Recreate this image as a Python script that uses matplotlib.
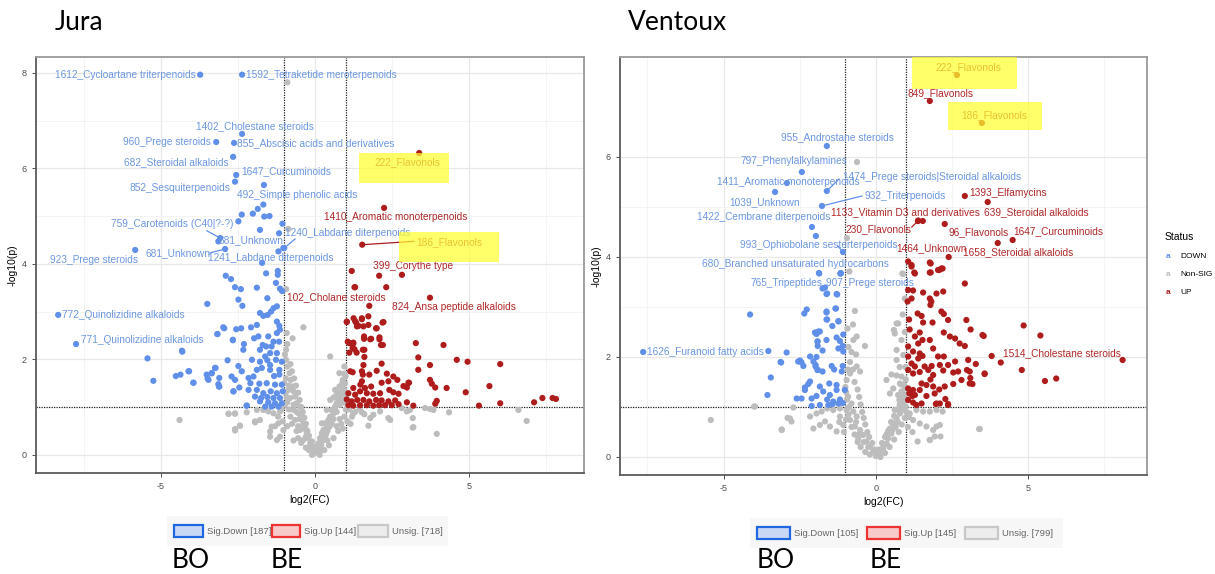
import matplotlib
matplotlib.use('Agg')
import matplotlib.pyplot as plt
from matplotlib.patches import Rectangle

plt.rcParams['font.family'] = ['Liberation Sans Narrow', 'Liberation Sans', 'DejaVu Sans']
plt.rcParams['axes.unicode_minus'] = False

# colours used by the volcano plots
col_down = '#5F8FE8'
col_up = '#AE1C1C'
col_ns = '#BDBDBD'
txt_down = '#6C97E0'
txt_up = '#B02828'

# ---------------- Jura ----------------
jura_down = [
    (-1.68, 5.24), (-1.86, 5.15), (-2.02, 5.05), (-2.38, 5.03), (-1.48, 5.0), (-1.65, 4.99),
    (-2.49, 4.89), (-1.06, 4.84), (-1.79, 4.71), (-1.17, 4.64), (-1.03, 4.33), (-1.19, 4.26),
    (-1.21, 3.85), (-1.21, 3.77), (-1.59, 3.8), (-2.9, 3.75), (-2.73, 3.68), (-2.6, 3.51),
    (-2.41, 3.47), (-1.89, 3.5), (-1.27, 3.6), (-1.14, 3.48), (-1.07, 3.43), (-2.49, 3.25),
    (-1.55, 3.28), (-3.5, 3.16), (-2.36, 3.12), (-1.24, 3.11), (-1.35, 3.07), (-1.43, 3.0),
    (-1.79, 2.97), (-1.54, 2.93), (-1.68, 2.91), (-1.24, 2.79), (-1.16, 2.7), (-2.98, 2.67),
    (-2.56, 2.63), (-2.4, 2.65), (-2.08, 2.67), (-1.89, 2.72), (-1.14, 2.62), (-3.17, 2.53),
    (-1.24, 2.55), (-2.67, 2.41), (-1.98, 2.44), (-1.84, 2.48), (-1.52, 2.48), (-1.35, 2.37),
    (-1.17, 2.37), (-4.31, 2.16), (-2.31, 2.32), (-1.7, 2.3), (-1.59, 2.27), (-1.41, 2.27),
    (-1.79, 2.2), (-2.33, 2.2), (-1.46, 2.13), (-1.24, 2.13), (-1.62, 2.06), (-2.84, 1.98),
    (-2.05, 1.99), (-1.79, 1.95), (-1.55, 1.98), (-1.27, 1.99), (-1.08, 1.95), (-2.49, 1.86),
    (-1.46, 1.88), (-2.38, 1.75), (-1.89, 1.78), (-1.73, 1.82), (-1.46, 1.78), (-1.16, 1.78),
    (-4.11, 1.75), (-3.25, 1.82), (-3.36, 1.71), (-2.71, 1.64), (-2.6, 1.57), (-3.11, 1.61),
    (-2.16, 1.61), (-2.0, 1.64), (-1.33, 1.65), (-1.16, 1.68), (-3.95, 1.51), (-3.46, 1.57),
    (-3.11, 1.43), (-2.1, 1.5), (-1.81, 1.49), (-1.57, 1.5), (-1.3, 1.47), (-1.08, 1.47),
    (-2.65, 1.33), (-2.46, 1.41), (-2.16, 1.36), (-1.89, 1.36), (-1.68, 1.29), (-1.44, 1.33),
    (-1.24, 1.29), (-1.05, 1.33), (-1.95, 1.22), (-1.75, 1.19), (-1.55, 1.21), (-1.35, 1.19),
    (-1.14, 1.19), (-1.79, 1.12), (-1.52, 1.1), (-1.3, 1.08), (-1.08, 1.08), (-2.22, 1.03),
    (-1.62, 1.01), (-1.41, 1.01), (-1.19, 1.01), (-5.44, 2.02), (-5.25, 1.55), (-4.32, 2.18),
    (-4.52, 1.65), (-4.37, 1.68), (-4.09, 1.75), (-3.95, 1.51), (-3.52, 1.68), (-3.49, 1.6),
    (-3.35, 1.71), (-3.23, 1.82), (-3.14, 1.48), (-3.12, 1.43), (-3.17, 2.53), (-2.95, 2.65),
    (-2.67, 2.4), (-2.65, 1.33), (-2.22, 1.03),
]
jura_up = [
    (1.19, 3.85), (2.08, 3.75), (1.28, 3.51), (2.31, 3.51), (1.03, 2.79), (1.25, 2.86),
    (1.33, 2.77), (1.52, 2.86), (1.41, 2.7), (1.73, 2.9), (1.57, 2.69), (1.98, 2.65),
    (2.19, 2.77), (1.59, 2.48), (1.79, 2.42), (2.09, 2.46), (2.14, 2.3), (1.11, 2.34),
    (1.24, 2.33), (1.22, 2.24), (1.35, 2.14), (1.55, 2.2), (1.11, 2.14), (3.27, 2.34),
    (3.35, 2.04), (3.35, 1.78), (2.16, 1.91), (1.57, 1.88), (1.14, 1.75), (1.22, 1.73),
    (1.52, 1.75), (1.55, 1.68), (1.76, 1.68), (2.0, 1.76), (2.33, 1.7), (2.54, 1.64),
    (2.67, 1.57), (1.52, 1.54), (1.47, 1.47), (1.24, 1.4), (1.62, 1.4), (1.82, 1.43),
    (2.16, 1.51), (2.38, 1.54), (2.87, 1.44), (3.03, 1.51), (1.08, 1.29), (1.3, 1.26),
    (1.46, 1.33), (1.68, 1.29), (1.89, 1.28), (2.11, 1.29), (2.41, 1.36), (2.54, 1.31),
    (2.71, 1.28), (1.03, 1.16), (1.19, 1.12), (1.37, 1.15), (1.57, 1.15), (1.76, 1.12),
    (1.98, 1.15), (2.16, 1.14), (2.38, 1.12), (2.6, 1.14), (2.98, 1.1), (3.19, 1.03),
    (1.08, 1.04), (1.24, 1.03), (1.46, 1.04), (1.68, 1.04), (1.89, 1.03), (2.08, 1.04),
    (2.27, 1.04), (2.49, 1.04), (2.71, 1.06), (4.17, 2.3), (3.73, 1.88), (4.6, 1.99),
    (4.95, 1.95), (6.01, 1.9), (5.66, 1.44), (4.89, 1.31), (4.27, 1.4), (3.9, 1.41),
    (3.73, 1.57), (3.79, 1.49), (3.95, 1.13), (3.9, 1.07), (3.05, 1.51), (2.98, 1.41),
    (5.32, 1.03), (6.01, 1.08), (7.11, 1.1), (7.38, 1.19), (7.71, 1.19), (7.82, 1.17),
    (1.3, 3.51), (1.03, 2.78), (1.3, 2.8), (1.36, 2.69), (1.52, 2.84), (1.73, 2.72),
    (2.0, 2.65), (2.22, 2.78), (1.59, 2.43), (1.82, 2.43), (2.09, 2.42), (2.2, 2.3),
    (1.06, 2.37), (1.24, 2.35), (1.28, 2.21), (1.6, 2.2), (1.6, 2.05),
]
jura_ns = [
    (-0.94, 1.99), (-0.9, 1.85), (-0.83, 1.71), (-0.79, 1.57), (-0.73, 1.43), (-0.87, 1.36),
    (-0.7, 1.33), (-0.65, 1.22), (-0.81, 1.19), (-0.6, 1.08), (-0.49, 1.01), (-0.7, 0.94),
    (-0.54, 0.87), (-0.43, 0.8), (-0.65, 0.73), (-0.38, 0.66), (-0.32, 0.56), (-0.49, 0.52),
    (-0.27, 0.45), (-0.22, 0.35), (-0.38, 0.31), (-0.16, 0.24), (-0.11, 0.14), (-0.05, 0.03),
    (0.05, 0.07), (0.0, 0.17), (0.11, 0.24), (0.16, 0.35), (0.22, 0.45), (0.27, 0.52),
    (0.38, 0.59), (0.32, 0.66), (0.43, 0.73), (0.49, 0.8), (0.6, 0.87), (0.54, 0.94),
    (0.65, 1.01), (0.7, 1.08), (0.76, 1.15), (0.81, 1.22), (0.7, 1.26), (0.87, 1.33),
    (0.92, 1.4), (0.79, 1.43), (0.97, 1.5), (0.9, 1.57), (0.99, 1.64), (0.65, 1.36),
    (0.49, 1.15), (0.38, 0.94), (0.54, 0.66), (0.22, 0.66), (-0.87, 4.73), (-0.94, 3.47),
    (-0.38, 2.67), (-0.73, 2.44), (-0.9, 2.32), (-0.94, 2.2), (0.49, 2.06), (0.79, 1.71),
    (-0.9, 7.8), (1.52, 0.89), (1.89, 0.84), (2.44, 0.73), (2.81, 0.98), (3.08, 0.94),
    (3.19, 0.58), (3.57, 0.98), (3.73, 0.96), (1.24, 0.87), (2.11, 0.91), (3.17, 0.77),
    (3.17, 0.57), (3.95, 0.44), (4.35, 0.89), (6.6, 0.94), (6.87, 0.71), (3.84, 0.94),
    (2.98, 0.91), (1.79, 0.77), (1.73, 0.61), (2.38, 0.77), (-1.14, 0.91), (-1.35, 0.87),
    (-1.52, 0.91), (-1.68, 0.94), (-1.89, 0.94), (-2.22, 0.89), (-2.6, 0.87), (-2.81, 0.86),
    (-1.79, 0.73), (-1.41, 0.59), (-1.19, 0.66), (-1.95, 0.7), (-2.6, 0.54), (-2.44, 0.61),
    (-1.46, 0.38), (-1.14, 0.38), (-1.03, 0.52), (-4.4, 0.73), (-2.81, 0.86), (-2.6, 0.86),
    (-2.44, 0.61), (-2.6, 0.51), (-1.95, 0.68), (-1.24, 0.31), (-1.46, 0.49),
    (-0.8, 1.9), (-0.75, 1.75), (-0.68, 1.6), (-0.62, 1.45), (-0.55, 1.3), (-0.5, 1.15),
    (-0.45, 1.0), (-0.4, 0.9), (-0.35, 0.78), (-0.3, 0.65), (-0.25, 0.5), (-0.2, 0.4),
    (-0.1, 0.28), (-0.05, 0.15), (0.0, 0.05), (-1.0, 1.5), (-0.95, 1.3), (-0.9, 1.1),
    (-0.85, 0.95), (-0.8, 0.8), (-0.75, 0.65), (-0.6, 0.5), (-0.55, 0.35), (-0.45, 0.25),
    (-0.3, 0.15), (-0.2, 0.1), (-0.1, 0.0), (0.1, 0.1), (0.2, 0.2), (0.3, 0.35), (0.4, 0.5),
    (0.5, 0.62), (0.6, 0.75), (0.7, 0.9), (0.8, 1.05), (0.85, 1.2), (0.95, 1.35),
    (0.98, 1.25), (0.92, 1.1), (0.15, 0.0), (0.3, 0.1), (0.45, 0.2), (0.6, 0.35),
    (0.75, 0.5), (0.85, 0.65), (0.95, 0.8), (1.0, 0.95), (0.9, 0.55), (1.05, 0.7),
    (-1.1, 0.95), (-1.2, 0.8), (-1.05, 0.7), (-1.3, 0.6), (1.1, 0.95), (1.2, 0.8),
    (1.3, 0.9), (1.45, 0.95), (1.6, 0.85), (1.15, 0.65),
    (-0.95, 1.6), (-0.92, 1.2), (-0.98, 1.05), (-0.85, 1.45), (-0.6, 0.9), (-0.5, 0.75),
    (-0.4, 0.55), (-0.3, 0.38), (-0.15, 0.18), (0.05, 0.12), (0.25, 0.3), (0.35, 0.42),
    (0.45, 0.58), (0.55, 0.78), (0.65, 0.95), (0.75, 1.3), (0.88, 1.5), (0.95, 1.7),
    (0.6, 1.2), (-0.98, 2.1), (-0.92, 2.55), (0.95, 1.85), (-0.7, 1.05), (-0.55, 0.6),
    (0.2, 0.1), (0.4, 0.3), (0.7, 0.6), (0.8, 0.75), (0.95, 1.1), (-0.9, 0.6), (-0.7, 0.3),
]
jura_labels = [
    ('1612_Cycloartane triterpenoids', -3.73, 7.96, 'DOWN'),
    ('1592_Tetraketide meroterpenoids', -2.37, 7.96, 'DOWN'),
    ('1402_Cholestane steroids', -2.37, 6.72, 'DOWN'),
    ('960_Prege steroids', -3.21, 6.55, 'DOWN'),
    ('855_Abscisic acids and derivatives', -2.63, 6.53, 'DOWN'),
    ('682_Steroidal alkaloids', -2.66, 6.24, 'DOWN'),
    ('1647_Curcuminoids', -2.56, 5.86, 'DOWN'),
    ('852_Sesquiterpenoids', -2.6, 5.72, 'DOWN'),
    ('492_Simple phenolic acids', -1.66, 5.65, 'DOWN'),
    ('759_Carotenoids (C40|?-?)', -3.08, 4.54, 'DOWN'),
    ('681_Unknown', -3.14, 4.47, 'DOWN'),
    ('1240_Labdane diterpenoids', -1.0, 4.33, 'DOWN'),
    ('681_Unknown', -2.92, 4.31, 'DOWN'),
    ('1241_Labdane diterpenoids', -1.72, 4.02, 'DOWN'),
    ('923_Prege steroids', -5.84, 4.29, 'DOWN'),
    ('772_Quinolizidine alkaloids', -8.34, 2.93, 'DOWN'),
    ('771_Quinolizidine alkaloids', -7.76, 2.32, 'DOWN'),
    ('222_Flavonols', 3.38, 6.32, 'UP'),
    ('1410_Aromatic monoterpenoids', 2.24, 5.17, 'UP'),
    ('186_Flavonols', 1.53, 4.4, 'UP'),
    ('399_Corythe type', 2.82, 3.77, 'UP'),
    ('102_Cholane steroids', 1.76, 3.12, 'UP'),
    ('824_Ansa peptide alkaloids', 3.73, 3.29, 'UP'),
]
# text anchor (x, y, ha) and optional leader start for each label above
jura_text_pos = [
    (-3.86, 7.96, 'right', None), (-2.24, 7.96, 'left', None), (-1.95, 6.89, 'center', None),
    (-3.38, 6.55, 'right', None), (-2.53, 6.53, 'left', None), (-2.82, 6.12, 'right', None),
    (-2.4, 5.95, 'left', None), (-2.76, 5.59, 'right', None), (-2.53, 5.45, 'left', None),
    (-2.66, 4.84, 'right', (-3.51, 4.69)), (-3.15, 4.5, 'left', None),
    (-0.97, 4.65, 'left', (-0.65, 4.52)), (-3.41, 4.23, 'right', (-3.41, 4.23)),
    (-3.47, 4.13, 'left', None), (-5.75, 4.08, 'right', None), (-8.21, 2.93, 'left', None),
    (-7.6, 2.41, 'left', None),
    (2.99, 6.12, 'center', None), (2.63, 4.98, 'center', None), (3.28, 4.46, 'left', (3.21, 4.47)),
    (3.18, 3.96, 'center', None), (-0.91, 3.31, 'left', None), (2.5, 3.1, 'left', None),
]
jura_highlights = [(1.43, 5.7, 2.92, 0.62), (2.73, 4.04, 3.24, 0.63)]

# ---------------- Ventoux ----------------
vent_down = [
    (-1.86, 3.67), (-1.16, 3.67), (-1.67, 3.39), (-1.6, 3.27), (-1.27, 3.25), (-4.13, 2.85),
    (-2.27, 2.95), (-2.35, 2.87), (-1.62, 2.91), (-1.31, 2.97), (-1.6, 2.75), (-1.23, 2.72),
    (-1.84, 2.51), (-1.95, 2.46), (-1.92, 2.31), (-1.91, 2.22), (-1.62, 2.34), (-1.29, 2.39),
    (-1.18, 2.32), (-1.09, 2.22), (-1.23, 2.17), (-1.07, 2.11), (-3.53, 2.12), (-2.93, 2.09),
    (-2.16, 2.01), (-2.05, 1.91), (-2.55, 1.91), (-2.44, 1.89), (-2.38, 1.82), (-3.11, 1.89),
    (-3.45, 1.59), (-3.56, 1.24), (-1.98, 1.81), (-1.92, 1.74), (-1.75, 1.71), (-1.45, 1.82),
    (-1.37, 1.75), (-1.09, 1.82), (-1.12, 1.71), (-2.16, 1.51), (-2.22, 1.46), (-2.33, 1.34),
    (-1.53, 1.47), (-1.29, 1.44), (-1.84, 1.41), (-1.73, 1.31), (-1.51, 1.24), (-1.29, 1.34),
    (-1.02, 1.34), (-2.6, 1.17), (-2.44, 1.17), (-2.11, 1.17), (-1.95, 1.22), (-1.6, 1.15),
    (-1.4, 1.11), (-1.18, 1.15), (-1.84, 1.04), (-1.56, 1.04), (-1.42, 1.06), (-1.23, 1.07),
    (-1.09, 1.08), (-2.11, 1.02), (-3.13, 1.9), (-2.33, 1.39), (-1.75, 3.37), (-1.62, 3.26),
    (-1.29, 3.26), (-1.62, 2.89), (-1.33, 2.97), (-1.62, 2.75), (-1.23, 2.71), (-1.43, 2.62),
    (-1.07, 2.45), (-2.0, 2.49), (-1.89, 2.51), (-2.49, 1.93), (-1.91, 2.31), (-1.75, 2.13),
    (-1.95, 2.0), (-1.98, 1.84), (-1.9, 1.74), (-1.97, 4.42),
]
vent_up = [
    (1.17, 3.84), (1.28, 3.67), (1.8, 3.87), (1.8, 3.69), (2.08, 3.74), (2.19, 3.77),
    (2.92, 3.47), (1.06, 3.34), (1.22, 3.33), (1.55, 3.29), (1.99, 3.27), (2.21, 3.31),
    (1.17, 3.17), (1.04, 3.11), (1.77, 3.17), (1.82, 3.11), (1.79, 3.04), (1.37, 2.87),
    (1.5, 2.82), (2.15, 2.91), (2.23, 2.86), (2.37, 2.74), (1.09, 2.75), (1.55, 2.69),
    (1.86, 2.69), (2.97, 2.74), (3.11, 2.55), (1.11, 2.55), (1.44, 2.49), (1.28, 2.41),
    (1.53, 2.34), (1.77, 2.34), (2.23, 2.49), (2.43, 2.41), (2.6, 2.37), (2.75, 2.27),
    (2.92, 2.22), (3.5, 2.44), (1.06, 2.21), (1.39, 2.27), (1.22, 2.11), (1.44, 2.07),
    (1.53, 2.02), (1.88, 2.17), (1.06, 2.01), (1.39, 1.97), (1.17, 1.87), (1.28, 1.81),
    (1.6, 1.81), (1.72, 1.74), (1.83, 1.82), (2.04, 2.01), (2.23, 2.01), (2.1, 1.84),
    (2.37, 1.84), (2.6, 1.91), (3.03, 1.94), (3.28, 1.86), (3.08, 1.71), (3.57, 1.67),
    (1.06, 1.74), (1.22, 1.67), (1.44, 1.7), (1.88, 1.64), (1.79, 1.55), (2.21, 1.73),
    (2.54, 1.69), (2.7, 1.71), (2.81, 1.54), (3.08, 1.47), (1.5, 1.47), (1.66, 1.44),
    (1.06, 1.37), (1.22, 1.34), (1.44, 1.34), (1.88, 1.41), (2.08, 1.35), (2.26, 1.41),
    (2.54, 1.46), (1.1, 1.27), (1.2, 1.22), (1.28, 1.24), (1.66, 1.22), (1.93, 1.27),
    (2.1, 1.07), (2.37, 1.06), (1.06, 1.14), (1.22, 1.09), (1.33, 1.04), (1.5, 1.07),
    (1.97, 1.06), (4.85, 2.63), (5.4, 2.43), (3.54, 2.42), (3.8, 2.02), (4.1, 1.89),
    (3.57, 1.66), (4.79, 1.74), (5.55, 1.52), (5.92, 1.57), (2.99, 1.74), (3.1, 1.58),
    (3.17, 1.46), (2.28, 1.16), (2.37, 1.04), (1.99, 1.07), (1.39, 4.73), (1.06, 3.91),
    (1.17, 3.81), (1.77, 3.89), (1.77, 3.69), (2.04, 3.74), (2.15, 3.77), (1.26, 3.69),
]
vent_ns = [
    (-0.87, 3.71), (0.87, 3.67), (0.95, 3.17), (-0.69, 2.92), (-0.93, 2.57), (0.68, 2.67),
    (0.59, 2.54), (-0.74, 2.34), (-0.63, 2.41), (-0.36, 2.22), (-0.8, 2.1), (-0.65, 2.05),
    (0.84, 2.34), (0.68, 2.14), (0.9, 2.04), (0.68, 1.94), (-0.63, 1.81), (-0.52, 1.71),
    (-0.85, 1.67), (-0.96, 1.54), (0.51, 1.65), (0.68, 1.63), (0.84, 1.61), (0.35, 1.54),
    (0.79, 1.47), (0.95, 1.37), (0.57, 1.37), (0.46, 1.27), (0.73, 1.24), (-0.62, 5.9),
    (-0.95, 4.38), (0.89, 3.66), (-0.91, 1.21), (-0.8, 1.07), (-0.96, 0.94), (-0.74, 0.91),
    (-0.63, 0.81), (-0.85, 0.74), (-0.69, 0.61), (-0.52, 0.54), (-0.42, 0.44), (-0.58, 0.37),
    (-0.31, 0.31), (-0.2, 0.21), (-0.09, 0.11), (0.02, 0.04), (0.13, 0.07), (0.24, 0.17),
    (0.35, 0.27), (0.4, 0.37), (0.51, 0.47), (0.46, 0.57), (0.57, 0.67), (0.68, 0.77),
    (0.79, 0.87), (0.62, 0.94), (0.9, 1.04), (0.77, 1.14), (0.95, 1.24), (0.84, 1.31),
    (0.98, 1.01), (-1.18, 0.97), (-1.4, 0.94), (-1.6, 0.97), (-1.78, 0.91), (-1.95, 0.87),
    (-2.16, 0.81), (-1.67, 0.71), (-1.51, 0.61), (-1.84, 0.64), (-2.05, 0.57), (-1.18, 0.81),
    (-1.07, 0.64), (-1.29, 0.51), (-2.82, 0.77), (-2.77, 0.71), (-3.09, 0.54), (-3.97, 1.01),
    (1.11, 0.87), (1.33, 0.94), (1.55, 0.91), (1.77, 0.91), (1.99, 0.94), (2.19, 0.91),
    (1.22, 0.74), (1.44, 0.67), (1.66, 0.61), (1.88, 0.54), (2.1, 0.64), (1.77, 0.34),
    (1.93, 0.41), (3.41, 0.56), (-4.0, 1.01), (-5.42, 0.74), (-3.09, 0.55), (-2.9, 0.78),
    (-2.71, 0.99), (3.39, 0.56), (2.12, 0.41), (1.99, 0.61), (1.77, 0.34), (1.37, 0.31),
    (0.73, 2.67), (0.62, 2.47), (-0.85, 1.9), (-0.75, 1.75), (-0.7, 1.5), (-0.6, 1.35),
    (-0.55, 1.2), (-0.5, 1.05), (-0.45, 0.9), (-0.4, 0.78), (-0.35, 0.65), (-0.28, 0.5),
    (-0.22, 0.4), (-0.12, 0.28), (-0.05, 0.15), (0.0, 0.02), (-1.0, 1.4), (-0.95, 1.15),
    (-0.9, 0.85), (-0.8, 0.6), (-0.7, 0.45), (-0.6, 0.3), (-0.5, 0.2), (-0.35, 0.1),
    (-0.2, 0.05), (0.1, 0.15), (0.2, 0.28), (0.3, 0.4), (0.4, 0.52), (0.5, 0.7),
    (0.6, 0.82), (0.7, 0.95), (0.78, 1.05), (0.85, 1.18), (0.92, 1.45), (0.98, 1.55),
    (0.15, 0.0), (0.3, 0.08), (0.45, 0.2), (0.6, 0.35), (0.75, 0.5), (0.85, 0.65),
    (0.95, 0.78), (1.0, 0.9), (1.05, 0.6), (1.2, 0.5), (-1.05, 0.5), (-1.2, 0.7),
    (-0.92, 1.75), (-0.98, 1.3), (-0.88, 1.0), (-0.65, 0.7), (-0.55, 0.45), (-0.4, 0.3),
    (-0.25, 0.2), (0.05, 0.1), (0.25, 0.22), (0.35, 0.45), (0.55, 0.55), (0.65, 0.6),
    (0.72, 0.7), (0.88, 0.95), (0.93, 1.12), (0.82, 1.45), (0.97, 1.8), (0.78, 1.8),
    (-0.9, 2.2), (-0.75, 2.65), (0.95, 2.5), (0.88, 2.85), (-0.98, 0.75), (1.08, 0.8),
]
vent_labels = [
    ('222_Flavonols', 2.66, 7.64, 'UP'),
    ('849_Flavonols', 1.77, 7.12, 'UP'),
    ('186_Flavonols', 3.48, 6.68, 'UP'),
    ('955_Androstane steroids', -1.61, 6.22, 'DOWN'),
    ('797_Phenylalkylamines', -2.43, 5.7, 'DOWN'),
    ('1411_Aromatic monoterpenoids', -2.92, 5.48, 'DOWN'),
    ('1474_Prege steroids|Steroidal alkaloids', -1.61, 5.32, 'DOWN'),
    ('1039_Unknown', -3.31, 5.3, 'DOWN'),
    ('932_Triterpenoids', -1.77, 5.02, 'DOWN'),
    ('1422_Cembrane diterpenoids', -2.1, 4.6, 'DOWN'),
    ('993_Ophiobolane sesterterpenoids', -1.08, 4.1, 'DOWN'),
    ('680_Branched unsaturated hydrocarbons', -1.15, 3.68, 'DOWN'),
    ('765_Tripeptides', -1.87, 3.68, 'DOWN'),
    ('907_Prege steroids', -1.16, 3.67, 'DOWN'),
    ('1626_Furanoid fatty acids', -7.64, 2.1, 'DOWN'),
    ('1133_Vitamin D3 and derivatives', 1.54, 4.72, 'UP'),
    ('230_Flavonols', 1.38, 4.72, 'UP'),
    ('96_Flavonols', 2.26, 4.66, 'UP'),
    ('1393_Elfamycins', 2.92, 5.22, 'UP'),
    ('639_Steroidal alkaloids', 3.67, 5.1, 'UP'),
    ('1647_Curcuminoids', 4.49, 4.34, 'UP'),
    ('1658_Steroidal alkaloids', 4.0, 4.28, 'UP'),
    ('1464_Unknown', 2.39, 4.0, 'UP'),
    ('1514_Cholestane steroids', 8.1, 1.94, 'UP'),
]
vent_text_pos = [
    (3.02, 7.8, 'center', None), (2.13, 7.28, 'center', None), (3.87, 6.84, 'center', None),
    (-1.25, 6.4, 'center', None), (-2.69, 5.92, 'center', None), (-2.89, 5.5, 'center', None),
    (-1.08, 5.6, 'left', (-1.21, 5.56)), (-3.67, 5.1, 'center', None),
    (-0.39, 5.22, 'left', (-0.46, 5.22)), (-3.67, 4.8, 'center', None),
    (-4.45, 4.24, 'left', (-1.25, 4.22)), (-5.7, 3.86, 'left', None),
    (-4.13, 3.48, 'left', None), (-1.64, 3.48, 'left', None), (-7.5, 2.1, 'left', None),
    (0.98, 4.9, 'center', None), (1.18, 4.56, 'right', (1.18, 4.6)),
    (2.39, 4.5, 'left', None), (3.08, 5.28, 'left', None), (3.54, 4.9, 'left', None),
    (4.52, 4.52, 'left', None), (2.85, 4.1, 'left', None), (0.66, 4.18, 'left', None),
    (6.1, 2.08, 'center', None),
]
vent_highlights = [(1.18, 7.36, 3.44, 0.66), (2.36, 6.54, 3.08, 0.56)]

# bottom legend counts
jura_counts = [187, 144, 718]
vent_counts = [105, 145, 799]


fig = plt.figure(figsize=(12.15, 5.74), dpi=100)


def volcano(ax, down, up, ns, labels, text_pos, highlights, xlim, ylim, yticks):
    ax.set_facecolor('white')
    for xy, c in ((ns, col_ns), (down, col_down), (up, col_up)):
        ax.scatter([p[0] for p in xy], [p[1] for p in xy], s=20, color=c,
                   edgecolors='none', zorder=3)
    for (name, x, y, st), (tx, ty, ha, lead) in zip(labels, text_pos):
        dc = col_down if st == 'DOWN' else col_up
        tc = txt_down if st == 'DOWN' else txt_up
        ax.scatter([x], [y], s=20, color=dc, edgecolors='none', zorder=3)
        if lead is not None:
            ax.plot([lead[0], x], [lead[1], y], color=dc, lw=0.9, zorder=3)
        ax.text(tx, ty, name, color=tc, fontsize=7.3, ha=ha, va='center', zorder=4)
    for hx, hy, hw, hh in highlights:
        ax.add_patch(Rectangle((hx, hy), hw, hh, facecolor='#FFFF30', alpha=0.72,
                               edgecolor='none', zorder=5))

    ax.axhline(1, color='#222222', lw=0.9, ls=(0, (1, 1)), zorder=2)
    ax.axvline(-1, color='#222222', lw=0.9, ls=(0, (1, 1)), zorder=2)
    ax.axvline(1, color='#222222', lw=0.9, ls=(0, (1, 1)), zorder=2)

    ax.set_xlim(*xlim)
    ax.set_ylim(*ylim)
    ax.set_xticks([-5, 0, 5])
    ax.set_xticks([-7.5, -2.5, 2.5, 7.5], minor=True)
    ax.set_yticks(yticks)
    ax.set_yticks([v + 1 for v in yticks[:-1]], minor=True)
    ax.grid(which='major', color='#E8E8E8', lw=0.9, zorder=0)
    ax.grid(which='minor', color='#F2F2F2', lw=0.6, zorder=0)
    ax.set_axisbelow(True)
    ax.tick_params(which='major', labelsize=6.5, labelcolor='#4D4D4D', color='#4D4D4D',
                   length=3, width=0.7)
    ax.tick_params(which='minor', length=0)
    for side in ('top', 'right'):
        ax.spines[side].set_color('#9A9A9A')
        ax.spines[side].set_linewidth(1.3)
    for side in ('bottom', 'left'):
        ax.spines[side].set_color('#5A5A5A')
        ax.spines[side].set_linewidth(1.3)
    ax.set_xlabel('log2(FC)', fontsize=7.5, labelpad=3)
    ax.set_ylabel('-log10(p)', fontsize=7.5, labelpad=3)


ax1 = fig.add_axes([36 / 1215, 1 - 473 / 574, (584 - 36) / 1215, (473 - 57) / 574])
volcano(ax1, jura_down, jura_up, jura_ns, jura_labels, jura_text_pos, jura_highlights,
        (-9.06, 8.73), (-0.38, 8.33), [0, 2, 4, 6, 8])

ax2 = fig.add_axes([620 / 1215, 1 - 475 / 574, (1147 - 620) / 1215, (475 - 57) / 574])
volcano(ax2, vent_down, vent_up, vent_ns, vent_labels, vent_text_pos, vent_highlights,
        (-8.4, 8.9), (-0.36, 8.0), [0, 2, 4, 6])

# panel titles
fig.text(55 / 1215, 1 - 22 / 574, 'Jura', fontsize=19, family='Lato', va='center')
fig.text(628 / 1215, 1 - 22 / 574, 'Ventoux', fontsize=19, family='Lato', va='center')

# Status legend next to the right panel
fig.text(1165 / 1215, 1 - 237 / 574, 'Status', fontsize=7.5, va='center')
for i, (lab, c) in enumerate([('DOWN', col_down), ('Non-SIG', col_ns), ('UP', col_up)]):
    yy = 1 - (256 + i * 18.5) / 574
    fig.text(1168 / 1215, yy, 'a', color=c, fontsize=6, fontweight='bold',
             va='center', ha='center')
    fig.text(1180 / 1215, yy, lab, fontsize=6, va='center')


def count_legend(x0, x1, ytop, ybot, boxes, counts):
    fig.patches.append(Rectangle((x0 / 1215, 1 - ybot / 574), (x1 - x0) / 1215,
                                 (ybot - ytop) / 574, transform=fig.transFigure,
                                 facecolor='#F7F7F7', edgecolor='none'))
    names = ['Sig.Down', 'Sig.Up', 'Unsig.']
    styles = [('#1F66E0', '#C9D9F5'), ('#EE3333', '#F8CACA'), ('#C8C8C8', '#EDEDED')]
    yc = (ytop + ybot) / 2
    for (bx0, bx1), nm, n, (ec, fc) in zip(boxes, names, counts, styles):
        fig.patches.append(Rectangle((bx0 / 1215, 1 - (yc + 6) / 574), (bx1 - bx0) / 1215,
                                     12 / 574, transform=fig.transFigure,
                                     facecolor=fc, edgecolor=ec, lw=1.6))
        fig.text((bx1 + 4) / 1215, 1 - yc / 574, f'{nm} [{n}]', fontsize=6.8,
                 color='#666666', va='center')


count_legend(167, 448, 516, 546, [(174, 203), (272, 300), (358, 388)], jura_counts)
count_legend(750, 1063, 518, 548, [(757, 790), (867, 900), (965, 998)], vent_counts)

# group names under the legends
for x, s in ((191, 'BO'), (287, 'BE'), (776, 'BO'), (886, 'BE')):
    fig.text(x / 1215, 1 - 561 / 574, s, fontsize=19, family='Lato', ha='center',
             va='center')

fig.savefig('out.png', dpi=100)
